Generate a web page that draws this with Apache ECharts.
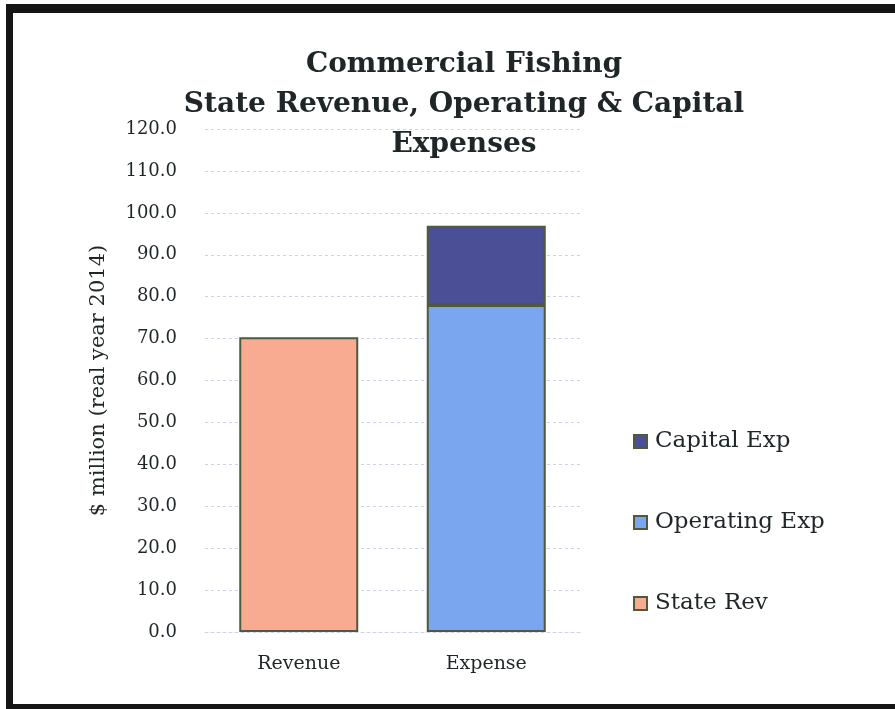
<!DOCTYPE html>
<html>
<head>
<meta charset="utf-8">
<script src="https://cdn.jsdelivr.net/npm/echarts@6/dist/echarts.min.js"></script>
<style>
  html, body { margin: 0; padding: 0; background: #fff; }
  #chart { width: 895px; height: 709px; }
  #frame {
    position: absolute; left: 6px; top: 4px; width: 900px; height: 691px;
    border-left: 7px solid #151515; border-top: 9px solid #151515; border-bottom: 7px solid #151515;
    pointer-events: none;
  }
</style>
</head>
<body>
<div id="chart"></div>
<div id="frame"></div>
<script>
// Categories and values ($ million, real year 2014)
const categories = ['Revenue', 'Expense'];
const stateRev = [70.3, null];
const operatingExp = [null, 78.0];
const capitalExp = [null, 18.9];
const yTicks = { min: 0, max: 120, interval: 10 };

const serif = '"DejaVu Serif", "Liberation Serif", serif';
const ink = '#1f2628';
const edge = '#4d5a3e';

const chart = echarts.init(document.getElementById('chart'));
chart.setOption({
  backgroundColor: '#fff',
  animation: false,
  title: {
    text: 'Commercial Fishing\nState Revenue, Operating & Capital\nExpenses',
    left: 459, top: 40, textAlign: 'center',
    textStyle: { fontFamily: serif, fontWeight: 'bold', fontSize: 28, lineHeight: 40, color: ink }
  },
  legend: {
    orient: 'vertical', left: 628, top: 425,
    itemWidth: 13, itemHeight: 13, itemGap: 58, icon: 'rect',
    data: ['Capital Exp', 'Operating Exp', 'State Rev'],
    textStyle: { fontFamily: serif, fontSize: 23, color: ink, padding: [0, 0, 0, 3] },
    itemStyle: { borderColor: edge, borderWidth: 2 }
  },
  grid: { left: 205, right: 315, top: 129, bottom: 77 },
  xAxis: {
    type: 'category', data: categories,
    axisLine: { show: true, lineStyle: { color: '#cdd1ec', type: [3, 3], width: 1 } },
    axisTick: { show: false },
    axisLabel: { fontFamily: serif, fontSize: 19, color: ink, margin: 23 }
  },
  yAxis: {
    type: 'value', min: yTicks.min, max: yTicks.max, interval: yTicks.interval,
    name: '$ million (real year 2014)', nameLocation: 'middle', nameGap: 96,
    nameTextStyle: { fontFamily: serif, fontSize: 21, color: ink },
    axisLine: { show: false }, axisTick: { show: false },
    axisLabel: { fontFamily: serif, fontSize: 18, color: ink, margin: 28,
      formatter: v => v.toFixed(1) },
    splitLine: { lineStyle: { color: '#cdd1ec', type: [3, 3], width: 1 } }
  },
  series: [
    { name: 'State Rev', type: 'bar', stack: 'all', data: stateRev, barWidth: 119,
      itemStyle: { color: '#f8ab90', borderColor: edge, borderWidth: 2 } },
    { name: 'Operating Exp', type: 'bar', stack: 'all', data: operatingExp, barWidth: 119,
      itemStyle: { color: '#7aa5ef', borderColor: edge, borderWidth: 2 } },
    { name: 'Capital Exp', type: 'bar', stack: 'all', data: capitalExp, barWidth: 119,
      itemStyle: { color: '#4b4f95', borderColor: edge, borderWidth: 2 } }
  ]
});
</script>
</body>
</html>
